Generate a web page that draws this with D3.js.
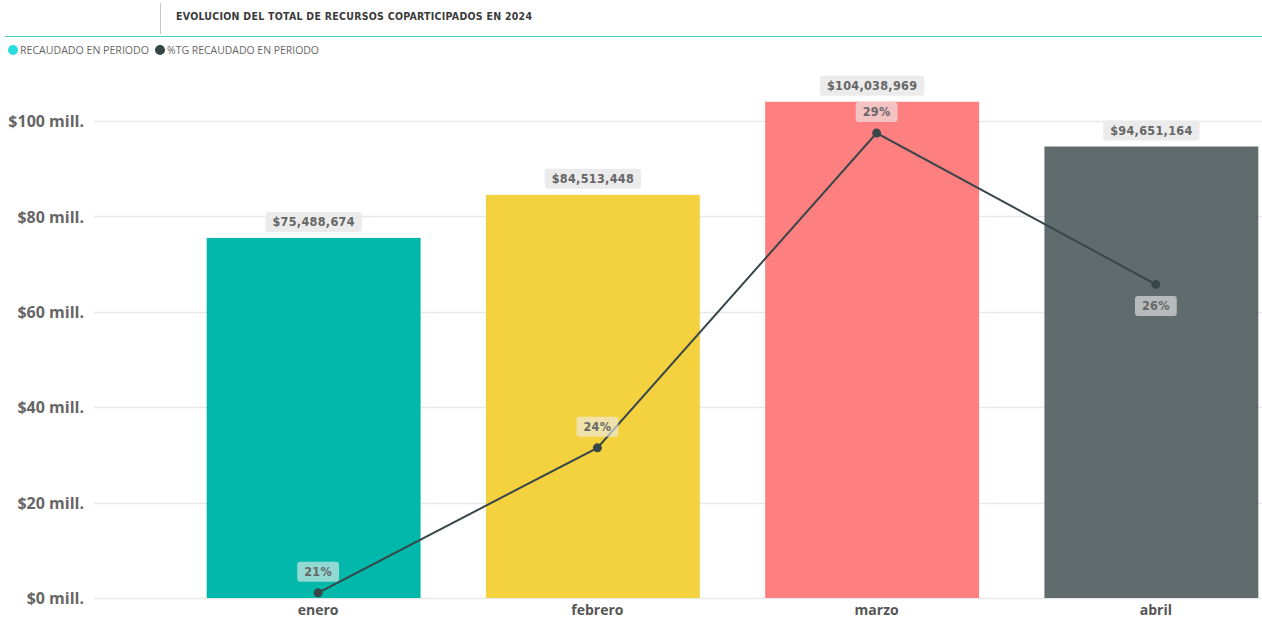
<!DOCTYPE html>
<html><head><meta charset="utf-8">
<script src="https://cdn.jsdelivr.net/npm/d3@7"></script>
<style>
html,body{margin:0;padding:0;background:#fff;}
svg{display:block;}
</style></head>
<body>
<svg id="chart" width="1262" height="621"></svg>
<script>
const months = ["enero","febrero","marzo","abril"];
const recaudado = [75488674, 84513448, 104038969, 94651164];
const pctTG = [0.2105, 0.2356, 0.2901, 0.2639];
const barColors = ["#01B8AA","#F3D13F","#FE7F7F","#5F6B6D"];
const yTicks = [0, 20e6, 40e6, 60e6, 80e6, 100e6];
const legendItems = ["RECAUDADO EN PERIODO","%TG RECAUDADO EN PERIODO"];
const legendColors = ["#2BDCE0","#374649"];
const title = "EVOLUCION DEL TOTAL DE RECURSOS COPARTICIPADOS EN 2024";

const svg = d3.select("#chart");
const DIN = "'DejaVu Sans Condensed','DejaVu Sans',sans-serif";
const SEG = "'Open Sans','Noto Sans',sans-serif";
const catShift = 4.5; // category centre (line/axis) sits slightly right of bar centre

// header
svg.append("line").attr("x1",160.5).attr("x2",160.5).attr("y1",3).attr("y2",34)
  .attr("stroke","#c8c8c8").attr("stroke-width",1);
svg.append("text").attr("x",176).attr("y",20).text(title)
  .attr("font-family",DIN).attr("font-weight","bold").attr("font-size",10.5)
  .attr("fill","#3b3b3b").attr("textLength",356).attr("lengthAdjust","spacing");
svg.append("line").attr("x1",5).attr("x2",1262).attr("y1",36.5).attr("y2",36.5)
  .attr("stroke","#3FCFC2").attr("stroke-width",1);

// legend
const legX = [13,160], legW=[129,152];
legendItems.forEach((t,i)=>{
  svg.append("circle").attr("cx",legX[i]).attr("cy",50).attr("r",5).attr("fill",legendColors[i]);
  svg.append("text").attr("x",legX[i]+7).attr("y",54).text(t)
    .attr("font-family",SEG).attr("font-size",10).attr("fill","#666")
    .attr("textLength",legW[i]).attr("lengthAdjust","spacingAndGlyphs");
});

// scales
const x = d3.scaleBand().domain(months).range([174,1291]).paddingInner(0.234).paddingOuter(0.117);
const y = d3.scaleLinear().domain([0,110e6]).range([598,73.3]);
const y2 = d3.scaleLinear().domain([0.2096,0.3005]).range([598,73]);
const cxCat = m => x(m)+x.bandwidth()/2+catShift;

// grid + y axis
const yAxis = d3.axisLeft(y).tickValues(yTicks).tickSize(0).tickPadding(0)
  .tickFormat(d=>"$"+d3.format("d")(d/1e6)+" mill.");
const gy = svg.append("g").attr("transform","translate(84,0)").call(yAxis);
gy.select(".domain").remove();
gy.selectAll("text").attr("font-family",SEG).attr("font-weight",700).attr("font-size",16)
  .attr("fill","#666").attr("dy","0.35em");
svg.append("g").selectAll("line").data(yTicks).join("line")
  .attr("x1",94).attr("x2",1262).attr("y1",d=>Math.round(y(d))+0.5).attr("y2",d=>Math.round(y(d))+0.5)
  .attr("stroke","#e8e8e8").attr("stroke-width",1.5);

// bars
svg.append("g").selectAll("rect").data(months).join("rect")
  .attr("x",d=>x(d)).attr("width",x.bandwidth())
  .attr("y",(d,i)=>y(recaudado[i])).attr("height",(d,i)=>y(0)-y(recaudado[i]))
  .attr("fill",(d,i)=>barColors[i]);

// x axis
const xAxis = d3.axisBottom(x).tickSize(0).tickPadding(0);
const gx = svg.append("g").attr("transform",`translate(${catShift},598)`).call(xAxis);
gx.select(".domain").remove();
gx.selectAll("text").attr("font-family",SEG).attr("font-weight",700).attr("font-size",14)
  .attr("fill","#555").attr("dy","1.2em");

// bar labels
const fmt = d3.format(",");
const bl = svg.append("g");
months.forEach((m,i)=>{
  const cx = x(m)+x.bandwidth()/2;
  const by = y(recaudado[i]);
  const t = bl.append("text").attr("x",cx).attr("y",by-16).attr("text-anchor","middle")
    .attr("dy","0.35em").text("$"+fmt(recaudado[i]))
    .attr("font-family",DIN).attr("font-weight","bold").attr("font-size",12.5)
    .attr("letter-spacing",0.3).attr("fill","#666");
  const w = t.node().getComputedTextLength();
  bl.insert("rect","text").attr("x",cx-w/2-7).attr("y",by-26).attr("width",w+14).attr("height",20)
    .attr("rx",3).attr("fill","#ebebeb");
});

// line
const line = d3.line().x((d,i)=>cxCat(months[i])).y(d=>y2(d));
svg.append("path").datum(pctTG).attr("d",line).attr("fill","none")
  .attr("stroke","#374649").attr("stroke-width",2);
svg.append("g").selectAll("circle").data(pctTG).join("circle")
  .attr("cx",(d,i)=>cxCat(months[i])).attr("cy",d=>y2(d)).attr("r",4.5)
  .attr("fill","#374649");

// percent labels
const below = [false,false,false,true];
const pl = svg.append("g");
pctTG.forEach((v,i)=>{
  const cx = cxCat(months[i]);
  const py = y2(v);
  const cy = below[i] ? py+21.5 : py-21;
  const t = pl.append("text").attr("x",cx).attr("y",cy).attr("text-anchor","middle")
    .attr("dy","0.35em").text(d3.format(".0%")(v))
    .attr("font-family",DIN).attr("font-weight","bold").attr("font-size",12.5)
    .attr("letter-spacing",0.3).attr("fill","#666");
  const w = t.node().getComputedTextLength();
  pl.insert("rect","text").attr("x",cx-w/2-7).attr("y",cy-10).attr("width",w+14).attr("height",20)
    .attr("rx",3).attr("fill","#ebebeb").attr("fill-opacity",0.62);
});
</script>
</body></html>
